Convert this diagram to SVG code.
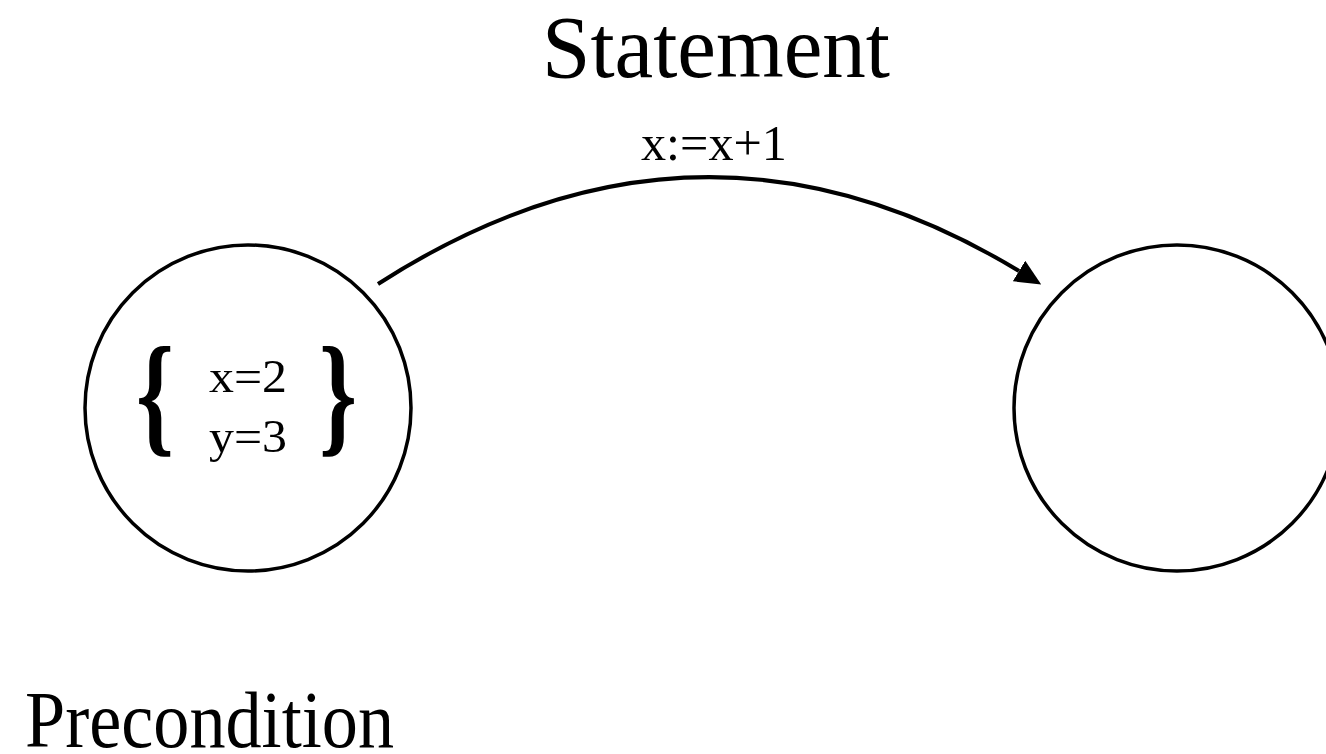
<svg xmlns="http://www.w3.org/2000/svg" width="1326" height="754" viewBox="0 0 1326 754">
  <style>
    .node { fill: #ffffff; stroke: #000000; stroke-width: 3.5; }
    .edge { fill: none; stroke: #000000; stroke-width: 4; }
    .serif { font-family: "Liberation Serif", "DejaVu Serif", serif; fill: #000000; }
    .brace { font-family: "Liberation Serif", "DejaVu Serif", serif; font-weight: bold; font-size: 134px; fill: #000000; }
  </style>
  <defs>
    <marker id="arrow" markerUnits="userSpaceOnUse" viewBox="0 0 26 24" refX="0" refY="12" markerWidth="26" markerHeight="24" orient="auto">
      <path d="M0,0 L26,12 L0,24 z" fill="#000000"/>
    </marker>
  </defs>
  <rect x="0" y="0" width="1326" height="754" fill="#ffffff"/>

  <text class="serif" x="542" y="77" font-size="88" textLength="348" lengthAdjust="spacingAndGlyphs">Statement</text>
  <text class="serif" x="25" y="747" font-size="80" textLength="369" lengthAdjust="spacingAndGlyphs">Precondition</text>

  <g id="connectors">
    <path class="edge" d="M378,284 Q699,77 1019,271" marker-end="url(#arrow)"/>
    <text class="serif" x="641" y="160" font-size="51" textLength="146" lengthAdjust="spacingAndGlyphs">x:=x+1</text>
  </g>

  <g id="precondition-node">
    <circle class="node" cx="248" cy="408" r="163"/>
    <text class="brace" transform="translate(136,439) scale(0.72,1)">{</text>
    <text class="brace" transform="translate(319,439) scale(0.72,1)">}</text>
    <text class="serif" x="209" y="392" font-size="47" textLength="78" lengthAdjust="spacingAndGlyphs">x=2</text>
    <text class="serif" x="209" y="452" font-size="47" textLength="78" lengthAdjust="spacingAndGlyphs">y=3</text>
  </g>

  <g id="postcondition-node">
    <circle class="node" cx="1177" cy="408" r="163"/>
  </g>
</svg>
